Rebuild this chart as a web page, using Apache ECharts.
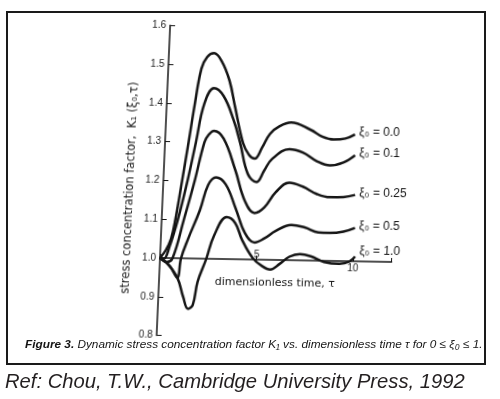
<!DOCTYPE html>
<html>
<head>
<meta charset="utf-8">
<script src="https://cdn.jsdelivr.net/npm/echarts@6/dist/echarts.min.js"></script>
<style>
  html, body { margin: 0; padding: 0; background: #fff; }
  #page { position: relative; width: 500px; height: 399px; }
  #frame, #plot { position: absolute; left: 0; top: 0; width: 500px; height: 399px; }
  /* the scanned figure sits slightly tilted on the page */
  #plot { transform-origin: 160px 258px; transform: rotate(1deg) skewX(-1.5deg); }
</style>
</head>
<body>
<div id="page"><div id="frame"></div><div id="plot"></div></div>
<script>
// dimensionless time tau and K1 for each xi0 curve
const tau00 = [0, 0.28, 0.53, 0.71, 0.97, 1.22, 1.46, 1.72, 1.99, 2.34, 2.75, 3.2, 3.56, 4.04, 4.37, 4.68, 5.05, 5.42, 5.9, 6.49, 7.51, 8.13, 8.73, 9.33, 9.82]
const k00 = [1.0, 1.02, 1.05, 1.10, 1.20, 1.30, 1.40, 1.49, 1.52, 1.53, 1.51, 1.46, 1.39, 1.30, 1.27, 1.26, 1.29, 1.325, 1.345, 1.355, 1.337, 1.32, 1.313, 1.316, 1.327]

const tau01 = [0, 0.2, 0.47, 0.84, 1.25, 1.6, 1.95, 2.42, 2.93, 3.49, 3.89, 4.36, 4.83, 5.2, 5.58, 6.45, 7.16, 7.88, 8.59, 9.28, 9.87]
const k01 = [1.0, 0.998, 1.03, 1.10, 1.20, 1.30, 1.40, 1.44, 1.42, 1.36, 1.30, 1.22, 1.20, 1.23, 1.26, 1.286, 1.278, 1.257, 1.246, 1.254, 1.273]

const tau025 = [0, 0.36, 0.65, 1.15, 1.62, 2.04, 2.25, 2.51, 3.03, 3.7, 4.27, 4.8, 5.29, 5.85, 6.53, 7.24, 7.96, 8.66, 9.36, 9.96]
const k025 = [1.0, 0.99, 1.0, 1.10, 1.20, 1.30, 1.32, 1.33, 1.31, 1.23, 1.15, 1.12, 1.135, 1.175, 1.2, 1.19, 1.172, 1.164, 1.165, 1.171]

const tau05 = [0, 0.52, 0.94, 1.09, 1.41, 1.96, 2.33, 2.72, 3.23, 3.79, 4.34, 4.86, 5.36, 5.94, 6.73, 7.43, 8.14, 8.74, 9.44, 10.03]
const k05 = [1.0, 0.98, 0.95, 1.0, 1.05, 1.125, 1.19, 1.21, 1.193, 1.133, 1.068, 1.044, 1.055, 1.075, 1.091, 1.085, 1.073, 1.072, 1.076, 1.086]

const tau10 = [0, 0.41, 0.94, 1.29, 1.56, 1.8, 2.0, 2.4, 2.75, 3.36, 3.82, 4.21, 4.8, 5.32, 5.73, 6.21, 6.7, 7.24, 7.8, 8.51, 9.31, 9.81, 10.1]
const k10 = [1.0, 0.985, 0.95, 0.9, 0.87, 0.88, 0.94, 1.0, 1.06, 1.108, 1.093, 1.05, 1.004, 0.983, 0.975, 0.99, 1.009, 1.016, 1.011, 0.997, 0.993, 0.999, 1.012]

const curveNames = ['ξ₀ = 0.0', 'ξ₀ = 0.1', 'ξ₀ = 0.25', 'ξ₀ = 0.5', 'ξ₀ = 1.0']
const curveTau = [tau00, tau01, tau025, tau05, tau10]
const curveK = [k00, k01, k025, k05, k10]

const ink = '#151515'
const font = 'Liberation Sans'
const axisFont = 'DejaVu Sans'

// frame, caption and reference line (not tilted)
const frame = echarts.init(document.getElementById('frame'))
frame.setOption({
  animation: false,
  graphic: [{
    type: 'rect',
    shape: { x: 7, y: 12, width: 478, height: 352 },
    style: { fill: 'none', stroke: '#1a1a1a', lineWidth: 2 },
  }],
  title: [
    {
      text: '{b|Figure 3.} Dynamic stress concentration factor K₁ vs. dimensionless time τ for 0 ≤ ξ₀ ≤ 1.',
      left: 25,
      top: 339,
      padding: 0,
      textStyle: {
        fontFamily: font, fontSize: 11.8, fontStyle: 'italic', fontWeight: 'normal', color: ink,
        rich: { b: { fontFamily: font, fontSize: 11.8, fontStyle: 'italic', fontWeight: 'bold', color: ink } },
      },
    },
    {
      text: 'Ref: Chou, T.W., Cambridge University Press, 1992',
      left: 5,
      top: 372,
      padding: 0,
      textStyle: { fontFamily: font, fontSize: 20.2, fontStyle: 'italic', fontWeight: 'normal', color: '#231f20' },
    },
  ],
})

// the plot itself
const chart = echarts.init(document.getElementById('plot'))

const series = curveNames.map((name, i) => ({
  name: name,
  type: 'line',
  data: curveTau[i].map((t, j) => [t, curveK[i][j]]),
  smooth: 0.4,
  symbol: 'none',
  lineStyle: { color: ink, width: 2.5 },
  endLabel: {
    show: true,
    formatter: name,
    distance: 4,
    offset: i === 4 ? [0, -6] : [0, -2],
    fontFamily: font,
    fontSize: 12,
    color: ink,
  },
}))

chart.setOption({
  animation: false,
  grid: { left: 160, right: 108.4, top: 25.2, bottom: 63.4, containLabel: false, outerBoundsMode: 'none' },
  xAxis: {
    type: 'value',
    min: 0,
    max: 12,
    interval: 5,
    position: 'bottom',
    offset: -77.6,
    name: 'dimensionless time, τ',
    nameLocation: 'middle',
    nameGap: 15,
    nameTextStyle: { fontFamily: axisFont, fontSize: 11, color: ink, verticalAlign: 'top' },
    axisLine: { onZero: false, lineStyle: { color: ink, width: 1.5 } },
    axisTick: { inside: true, length: 4, lineStyle: { color: ink } },
    axisLabel: {
      margin: -11,
      lineHeight: 12,
      fontFamily: font,
      fontSize: 10,
      color: '#222',
      formatter: (v) => (v === 5 ? '5' : v === 10 ? '\n10' : ''),
    },
    splitLine: { show: false },
  },
  yAxis: {
    type: 'value',
    min: 0.8,
    max: 1.6,
    interval: 0.1,
    name: 'stress concentration factor,  K₁ (ξ₀,τ)',
    nameLocation: 'middle',
    nameRotate: 90,
    nameGap: 27,
    nameTextStyle: { fontFamily: axisFont, fontSize: 11.5, color: ink, padding: [0, 16, 0, 0] },
    axisLine: { show: true, lineStyle: { color: ink, width: 1.5 } },
    axisTick: { show: true, inside: true, length: 5, lineStyle: { color: ink } },
    axisLabel: {
      margin: 4,
      fontFamily: font,
      fontSize: 10,
      color: '#222',
      formatter: (v) => v.toFixed(1),
    },
    splitLine: { show: false },
  },
  series: series,
})
</script>
</body>
</html>
